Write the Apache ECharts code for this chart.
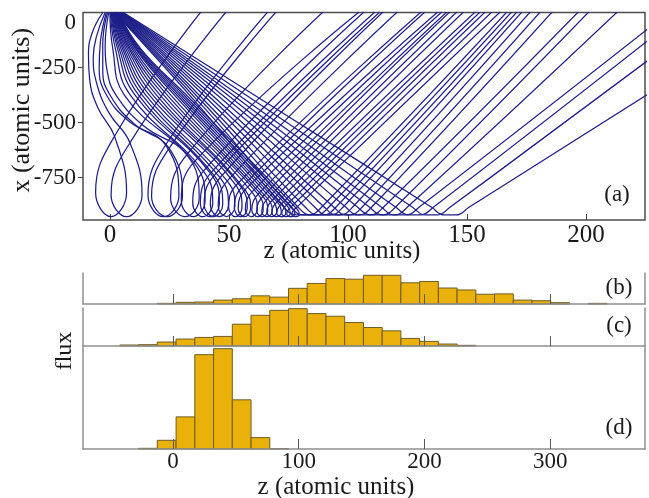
<!DOCTYPE html>
<html>
<head>
<meta charset="utf-8">
<script src="https://cdn.jsdelivr.net/npm/echarts@6/dist/echarts.min.js"></script>
<style>html,body{margin:0;padding:0;background:#fff}#c{width:649px;height:498px}</style>
</head>
<body>
<div id="c"></div>
<script>
// ---------- tick labels ----------
const zTicksTop = [0, 50, 100, 150, 200];
const xTicksTop = [0, -250, -500, -750];
const zTicksBottom = [0, 100, 200, 300];

// ---------- panel (a): trajectories [z, x] ----------
const loopTrajectories = [
  [[-3,0],[-7.5,-94],[-9,-194],[-8.5,-304],[-5,-434],[2,-564],[7,-819],[0.5,-928],[-6,-819],[2.5,-552],[38.4,5]],
  [[-2,0],[-5.5,-104],[-7,-204],[-5.5,-324],[-0.5,-454],[8.5,-594],[13.5,-828],[7,-928],[0.5,-828],[9,-582],[49,5]],
  [[-1.5,0],[-4,-134],[-4.5,-254],[-1.5,-374],[8,-494],[23.5,-604],[29,-831],[22.5,-928],[16,-831],[24,-592],[66.5,5]],
  [[-1,0],[-3,-144],[-3,-264],[0,-374],[10,-504],[25,-619],[30.5,-835],[24,-928],[17.5,-835],[25.5,-607],[70,5]],
  [[-0.5,0],[-2,-154],[-1,-274],[2.5,-374],[14,-514],[32.5,-649],[37.5,-844],[31.5,-928],[25.5,-844],[33,-637],[89.8,5]],
  [[0,0],[1.2,-164],[6,-374],[35.5,-684],[40,-855],[35,-928],[30,-855],[36,-672],[105,5]],
  [[0.2,0],[2.3,-164],[8.5,-374],[39.5,-724],[43.2,-867],[39,-928],[34.8,-867],[40,-712],[107,5]],
  [[0.4,0],[3.2,-164],[10.5,-374],[42.5,-734],[46,-870],[42,-928],[38,-870],[43,-722],[111.6,5]],
  [[0.6,0],[3.9,-164],[12,-374],[44,-744],[47.4,-873],[43.5,-928],[39.6,-873],[44.5,-732],[113.7,5]],
  [[0.8,0],[4.6,-164],[13.5,-374],[46.5,-754],[49.8,-876],[46,-928],[42.2,-876],[47,-742],[115,5]],
  [[1,0],[5.3,-164],[15,-374],[49.5,-769],[52.5,-880],[49,-928],[45.5,-880],[50,-757],[121,5]],
  [[1.2,0],[5.9,-164],[16.5,-374],[53.2,-789],[55.5,-886],[52.7,-928],[49.9,-886],[53.7,-777],[131,5]],
  [[1.4,0],[6.6,-164],[18,-374],[55.5,-799],[57.7,-889],[55,-928],[52.3,-889],[56,-787],[132.6,5]],
  [[1.6,0],[7.3,-164],[19.5,-374],[57,-809],[59.1,-892],[56.5,-928],[53.9,-892],[57.5,-797],[138,5]],
  [[1.8,0],[8,-164],[21,-374],[59.9,-819],[61.9,-895],[59.4,-928],[56.9,-895],[60.4,-807],[139.7,5]],
  [[2,0],[8.6,-164],[22.5,-374],[62.5,-829],[64.4,-898],[62,-928],[59.6,-898],[63,-817],[141.8,5]],
  [[2.2,0],[9.3,-164],[24,-374],[64.5,-839],[66.3,-901],[64,-928],[61.7,-901],[65,-827],[143,5]],
  [[2.4,0],[10,-164],[25.5,-374],[66.5,-849],[68.2,-904],[66,-928],[63.8,-904],[67,-837],[146,5]],
  [[2.6,0],[10.7,-164],[27,-374],[68.5,-856],[70.1,-906],[68,-928],[65.9,-906],[69,-844],[148.8,5]],
  [[2.8,0],[11.1,-164],[28,-374],[70.5,-864],[72,-909],[70,-928],[68,-909],[71,-852],[153.7,5]],
  [[3,0],[11.6,-164],[29,-374],[72.5,-872],[73.9,-911],[72,-928],[70.1,-911],[73,-860],[155.8,5]],
  [[3.2,0],[12,-164],[30,-374],[74.5,-879],[75.8,-913],[74,-928],[72.2,-913],[75,-867],[157.9,5]],
  [[3.4,0],[12.5,-164],[31,-374],[76.5,-886],[77.7,-915],[76,-928],[74.3,-915],[77,-874],[160.7,5]],
  [[3.6,0],[12.9,-164],[32,-374],[78.5,-892],[79.6,-917],[78,-928],[76.4,-917],[79,-880],[164.2,5]]
];
const vTrajectories = [
  [[2,0],[39,-444],[73,-884],[78.5,-920],[83.5,-920],[89,-884],[167,5]],
  [[2.3,0],[40.5,-444],[76,-884],[81.5,-920],[86.5,-920],[92,-884],[169,5]],
  [[2.6,0],[42.1,-444],[79,-884],[84.5,-920],[89.5,-920],[95,-884],[171.2,5]],
  [[2.9,0],[43.7,-444],[82,-884],[87.5,-920],[92.5,-920],[98,-884],[173.3,5]],
  [[3.2,0],[45.8,-444],[86,-884],[91.5,-920],[96.5,-920],[102,-884],[176.8,5]],
  [[3.5,0],[47.8,-444],[90,-884],[95.5,-920],[100.5,-920],[106,-884],[181,5]],
  [[3.8,0],[49.9,-444],[94,-884],[99.5,-920],[104.5,-920],[110,-884],[186,5]],
  [[4.1,0],[52.5,-444],[99,-884],[104.5,-920],[109.5,-920],[115,-884],[197,5]],
  [[4.4,0],[55,-444],[104,-884],[109.5,-920],[114.5,-920],[120,-884],[201.4,5]],
  [[4.7,0],[57.6,-444],[109,-884],[114.5,-920],[119.5,-920],[125,-884],[213.4,5]],
  [[5,0],[60.2,-444],[114,-884],[119.5,-920],[124.5,-920],[130,-884],[227,-66]],
  [[5.2,0],[63.1,-444],[120,-884],[125.5,-920],[130.5,-920],[136,-884],[227,-119]],
  [[5.4,0],[66.7,-444],[127,-884],[132.5,-920],[137.5,-920],[143,-884],[227,-210]],
  [[5.6,0],[70.8,-444],[135,-884],[140.5,-920],[145.5,-920],[151,-884],[227,-365]]
];

// ---------- panels (b)-(d): histograms ----------
const binCenters = [-34.9,-20,-5.1,9.9,24.8,39.7,54.6,69.5,84.4,99.3,114.2,129.1,144,158.9,173.8,188.7,203.6,218.5,233.4,248.3,263.2,278.1,293,307.9,322.8,337.7];
const binWidth = 14.9;
const fluxB = [0,0,2,5,6,12,16,25,21,48,63,78,76,88,88,65,69,49,43,30,31,12,10,4,0,2];
const fluxC = [3,4,12,21,26,29,66,93,108,113,98,90,71,56,46,23,14,6,2,0,0,0,0,0,0,0];
const fluxD = [0,2,26,96,282,300,147,34,1,0,0,0,0,0,0,0,0,0,0,0,0,0,0,0,0,0];

const FONT = '"Liberation Serif", "Times New Roman", serif';
const TXT = '#1a1a1a';
const LINE = '#1e1e88';
const GOLD = '#EAB10A';

const chart = echarts.init(document.getElementById('c'), null, {renderer: 'canvas'});

function histSeries(vals, idx) {
  return {
    type: 'custom', xAxisIndex: idx, yAxisIndex: idx * 2 - 1, silent: true, z: 2,
    data: binCenters.map((c, i) => [c, vals[i]]),
    encode: {x: 0, y: 1},
    renderItem: function (params, api) {
      const c = api.value(0), v = api.value(1);
      if (!v) return null;
      const p0 = api.coord([c - binWidth / 2, v]);
      const p1 = api.coord([c + binWidth / 2, 0]);
      return {type: 'rect', shape: {x: p0[0], y: p0[1], width: p1[0] - p0[0], height: p1[1] - p0[1]},
        style: {fill: GOLD, stroke: '#6e5c26', lineWidth: 1}};
    }
  };
}

const bottomGrids = [[273, 31], [308, 38], [347, 102]];
const panelMax = [95, 115, 305];

const xAxes = [{
  type: 'value', gridIndex: 0, min: -11.3, max: 224.8, position: 'bottom',
  axisLine: {show: false, onZero: false}, splitLine: {show: false},
  axisTick: {inside: true, length: 6, customValues: zTicksTop, lineStyle: {color: '#444'}},
  axisLabel: {customValues: zTicksTop, fontSize: 25, fontFamily: FONT, color: TXT, margin: 3},
  name: 'z (atomic units)', nameLocation: 'middle', nameGap: 19, nameMoveOverlap: false,
  nameTextStyle: {fontSize: 25, fontFamily: FONT, color: TXT, padding: [0, 44, 0, 0]}
}];
const yAxes = [{
  type: 'value', gridIndex: 0, min: -943, max: 0, position: 'left',
  axisLine: {show: false, onZero: false}, splitLine: {show: false},
  axisTick: {inside: false, length: 5, customValues: xTicksTop.slice(1), lineStyle: {color: '#444'}},
  axisLabel: {customValues: xTicksTop, fontSize: 23, fontFamily: FONT, color: TXT, margin: 7,
    formatter: v => (v === 0 ? '{zero|0}' : String(v)),
    rich: {zero: {padding: [20, 0, 0, 0], fontSize: 23, fontFamily: FONT, color: TXT}}},
  name: 'x (atomic units)', nameLocation: 'middle', nameRotate: 90, nameGap: 48, nameMoveOverlap: false,
  nameTextStyle: {fontSize: 26, fontFamily: FONT, color: TXT, padding: [0, 0, 0, 12]}
}];
for (let i = 0; i < 3; i++) {
  const last = i === 2;
  xAxes.push({
    type: 'value', gridIndex: i + 1, min: -71.6, max: 375.4, z: 10, position: 'bottom',
    axisLine: {show: true, onZero: false, lineStyle: {color: '#8f8f8f', width: 1.5}},
    splitLine: {show: false},
    axisTick: {inside: true, length: 10, customValues: zTicksBottom, lineStyle: {color: '#5a5a5a'}},
    axisLabel: {show: last, customValues: zTicksBottom, fontSize: 23, fontFamily: FONT, color: TXT, margin: 1},
    name: last ? 'z (atomic units)' : '', nameLocation: 'middle', nameGap: 26, nameMoveOverlap: false,
    nameTextStyle: {fontSize: 25, fontFamily: FONT, color: TXT, padding: [0, 56, 0, 0]}
  });
  yAxes.push({
    type: 'value', gridIndex: i + 1, min: 0, max: panelMax[i], position: 'left', z: 10,
    axisLine: {show: true, onZero: false, lineStyle: {color: '#8f8f8f', width: 1.5}},
    axisTick: {show: false}, axisLabel: {show: false}, splitLine: {show: false}
  });
  yAxes.push({
    type: 'value', gridIndex: i + 1, min: 0, max: panelMax[i], position: 'right', z: 10,
    axisLine: {show: true, onZero: false, lineStyle: {color: '#8f8f8f', width: 1.5}},
    axisTick: {show: false}, axisLabel: {show: false}, splitLine: {show: false}
  });
}

const trajSeries = loopTrajectories.concat(vTrajectories).map(d => ({
  type: 'line', xAxisIndex: 0, yAxisIndex: 0, data: d, smooth: 0.45,
  showSymbol: false, symbol: 'none', silent: true, clip: true,
  lineStyle: {color: LINE, width: 1.25}
}));

const labelStyle = {font: '23px "Liberation Serif", serif', fill: TXT, textAlign: 'center', textVerticalAlign: 'middle'};

chart.setOption({
  animation: false,
  backgroundColor: '#fff',
  grid: [
    {left: 83, top: 12.5, width: 562, height: 207.5, show: true, borderColor: '#4d4d4d', borderWidth: 1.5,
      backgroundColor: 'transparent', outerBoundsMode: 'none', containLabel: false},
    ...bottomGrids.map(g => ({left: 83, top: g[0], width: 562, height: g[1], outerBoundsMode: 'none', containLabel: false}))
  ],
  xAxis: xAxes,
  yAxis: yAxes,
  series: trajSeries.concat([histSeries(fluxB, 1), histSeries(fluxC, 2), histSeries(fluxD, 3)]),
  graphic: [
    {type: 'text', x: 617, y: 195, style: Object.assign({text: '(a)'}, labelStyle)},
    {type: 'text', x: 619, y: 288, style: Object.assign({text: '(b)'}, labelStyle)},
    {type: 'text', x: 619, y: 326, style: Object.assign({text: '(c)'}, labelStyle)},
    {type: 'text', x: 619, y: 428, style: Object.assign({text: '(d)'}, labelStyle)},
    {type: 'text', x: 65, y: 351, rotation: Math.PI / 2,
      style: {text: 'flux', font: '24px "Liberation Serif", serif', fill: TXT, textAlign: 'center', textVerticalAlign: 'middle'}}
  ]
});
</script>
</body>
</html>
